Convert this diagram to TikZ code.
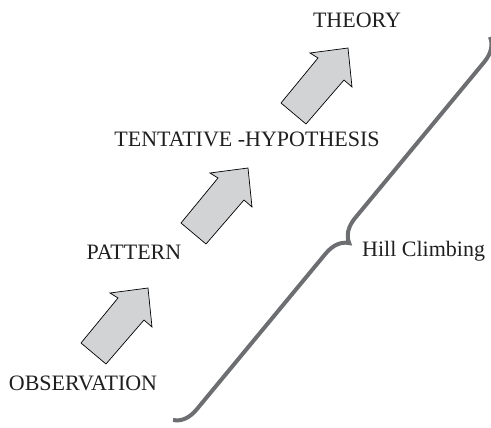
\documentclass[tikz,border=0pt]{standalone}
\usepackage{fontspec}
\setmainfont{Liberation Serif}
\usetikzlibrary{decorations.pathreplacing}
\definecolor{arrowgray}{RGB}{210,211,213}
\definecolor{bracegray}{RGB}{109,110,113}
\begin{document}
\begin{tikzpicture}[x=1pt, y=-1pt,
    stagelabel/.style={font=\fontsize{22}{26}\selectfont, text=black!88, inner sep=0pt},
    blockarrow/.style={fill=arrowgray, draw=black, line width=0.7pt, line join=miter},
    hillbrace/.style={draw=bracegray, line width=4pt, decorate, decoration={brace, amplitude=23pt}}]

    \useasboundingbox (0,0) rectangle (491,428);

    % Stages
    \node[stagelabel, anchor=base] (obs) at (83,390) {OBSERVATION};
    \node[stagelabel, anchor=base] (pat) at (134,259) {PATTERN};
    \node[stagelabel, anchor=base] (hyp) at (247,147) {TENTATIVE -HYPOTHESIS};
    \node[stagelabel, anchor=base] (thy) at (357,28) {THEORY};

    % Block arrows between the stages
    \foreach \k in {0,1,2}
        \draw[blockarrow, shift={(100*\k,-120*\k)}] (81,343) -- (118,298) -- (110,293)
            -- (148,288) -- (152,327) -- (144,320) -- (106,364) -- cycle;

    % Brace
    \coordinate (bracetop) at (490,37);
    \coordinate (bracebot) at (173,420);
    \draw[hillbrace] (bracetop) -- (bracebot);
    \node[stagelabel, anchor=base west] (hill) at (362,256) {Hill Climbing};

\end{tikzpicture}
\end{document}
